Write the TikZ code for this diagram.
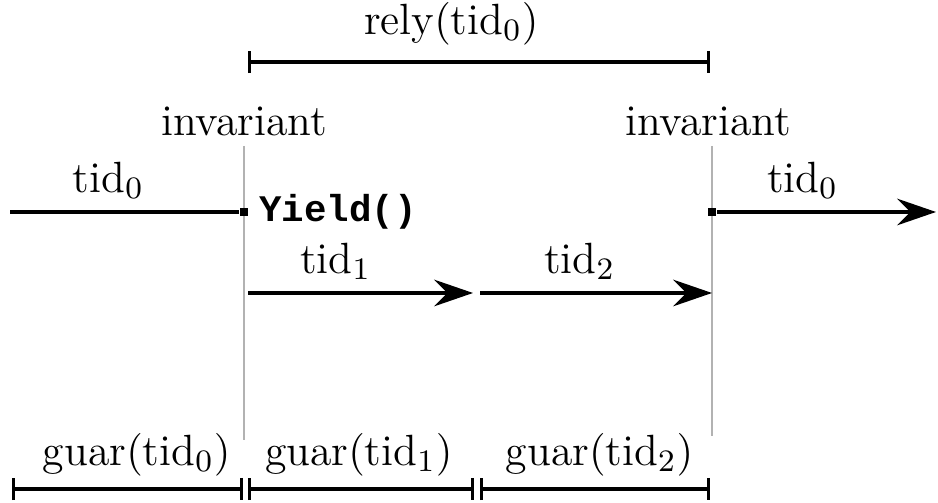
\documentclass[tikz,border=0pt]{standalone}
\usepackage{fontspec}
\newfontfamily\codefont{Liberation Mono}
\usetikzlibrary{arrows.meta, positioning}

\begin{document}
\begin{tikzpicture}[x=0.9cm, y=0.9cm]
\tikzset{every node/.style={font=\fontsize{11.2pt}{13pt}\selectfont},
		flow/.style={line width=0.8pt, -{Stealth[length=3.5mm, width=2.4mm, inset=1.2mm]}},
		span/.style={line width=0.8pt, {Bar[width=2mm]}-{Bar[width=2mm]}},
		guide/.style={gray!60, line width=0.4pt},
		point/.style={rectangle, fill, inner sep=0pt, minimum size=0.8mm},
		txt/.style={above, inner sep=3pt}}
\useasboundingbox (0,0) rectangle (9.38,-5.03);
% guides at the yield points
\coordinate (G1top) at (2.44,-1.46);
\coordinate (G1bot) at (2.44,-4.40);
\coordinate (G2top) at (7.12,-1.46);
\coordinate (G2bot) at (7.12,-4.36);
\draw[guide] (G1top) -- (G1bot);
\draw[guide] (G2top) -- (G2bot);
\node[above=-1pt of G1top] (inv1) {invariant};
\node[above=-1pt of G2top, xshift=-1pt] (inv2) {invariant};
% rely span
\coordinate (R1) at (2.48,-0.62);
\coordinate (R2) at (7.10,-0.62);
\draw[span] (R1) -- node[txt, above=1pt, pos=0.44] (rely) {rely$(\mathrm{tid}_0)$} (R2);
% thread tid0
\coordinate (S) at (0.10,-2.12);
\node[point] (Y1) at (2.44,-2.12) {};
\node[point] (Y2) at (7.12,-2.12) {};
\coordinate (E) at (9.36,-2.12);
\draw[line width=0.8pt] (S) -- node[txt, pos=0.43] (t0a) {$\mathrm{tid}_0$} (Y1);
\draw[flow] (Y2) -- node[txt, pos=0.39] (t0b) {$\mathrm{tid}_0$} (E);
\node[right=-1pt of Y1, font=\codefont\bfseries\fontsize{9.6pt}{11pt}\selectfont] (yield) {Yield()};
% other threads
\coordinate (A1) at (2.48,-2.93);
\coordinate (B1) at (4.73,-2.93);
\coordinate (A2) at (4.80,-2.93);
\coordinate (B2) at (7.12,-2.93);
\draw[flow] (A1) -- node[txt, pos=0.39] (t1) {$\mathrm{tid}_1$} (B1);
\draw[flow] (A2) -- node[txt, pos=0.43] (t2) {$\mathrm{tid}_2$} (B2);
% guarantees
\coordinate (U0) at (0.12,-4.89);
\coordinate (V0) at (2.43,-4.89);
\coordinate (U1) at (2.48,-4.89);
\coordinate (V1) at (4.74,-4.89);
\coordinate (U2) at (4.80,-4.89);
\coordinate (V2) at (7.10,-4.89);
\draw[span] (U0) -- node[txt, pos=0.54] (g0) {guar$(\mathrm{tid}_0)$} (V0);
\draw[span] (U1) -- node[txt, pos=0.49] (g1) {guar$(\mathrm{tid}_1)$} (V1);
\draw[span] (U2) -- node[txt, pos=0.52] (g2) {guar$(\mathrm{tid}_2)$} (V2);
\end{tikzpicture}
\end{document}
